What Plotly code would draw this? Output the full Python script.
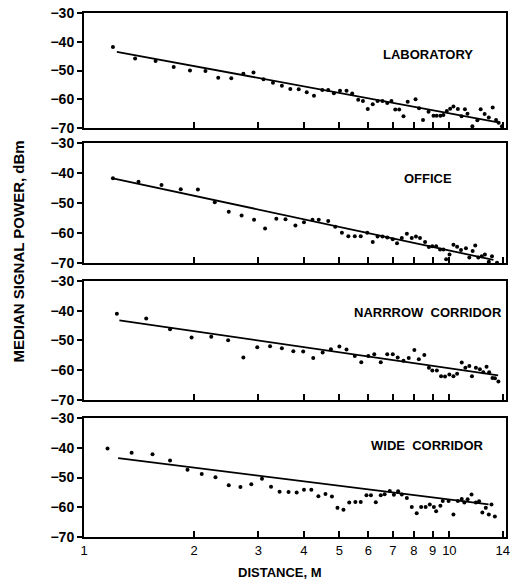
import plotly.graph_objects as go

# ---------------- data ----------------
panel_names = ["LABORATORY", "OFFICE", "NARRROW  CORRIDOR", "WIDE  CORRIDOR"]

lab_x = [1.20, 1.38, 1.57, 1.76, 1.95, 2.15, 2.33, 2.53, 2.73, 2.91, 3.10, 3.29, 3.48, 3.67, 3.87,
         4.07, 4.26, 4.49, 4.66, 4.83, 5.02, 5.23, 5.42, 5.63, 5.80, 5.98, 6.17, 6.36, 6.56, 6.76,
         6.94, 7.11, 7.29, 7.49, 7.69, 8.08, 8.26, 8.47, 8.77, 9.05, 9.23, 9.45, 9.63, 9.84, 10.05,
         10.26, 10.55, 10.80, 11.03, 11.21, 11.56, 11.93, 12.18, 12.49, 12.82, 13.14, 13.42, 13.64, 13.93]
lab_y = [-41.8, -45.8, -46.7, -48.8, -50.0, -50.2, -52.5, -52.7, -51.1, -50.7, -53.0, -54.3, -55.3, -56.4, -56.5,
         -57.6, -58.8, -56.8, -56.8, -57.9, -57.0, -57.0, -58.0, -60.2, -60.6, -63.4, -61.7, -60.6, -60.6, -61.3,
         -60.6, -63.6, -63.6, -65.9, -60.9, -60.0, -63.1, -67.2, -64.3, -65.7, -65.7, -65.7, -65.5, -64.1, -63.3,
         -62.5, -63.4, -65.9, -63.5, -65.0, -69.4, -67.3, -63.5, -65.1, -66.3, -62.9, -67.2, -68.2, -69.4]
lab_fit_x = [1.23, 13.6]
lab_fit_y = [-43.5, -68.0]

office_x = [1.20, 1.41, 1.63, 1.84, 2.05, 2.28, 2.49, 2.70, 2.92, 3.13, 3.36, 3.56, 3.79, 4.00, 4.22,
            4.39, 4.66, 4.87, 5.08, 5.29, 5.51, 5.72, 5.96, 6.17, 6.36, 6.56, 6.76, 7.00, 7.19, 7.41,
            7.65, 7.89, 8.10, 8.31, 8.58, 8.79, 8.98, 9.20, 9.43, 9.63, 9.80, 10.01, 10.26, 10.50, 10.76,
            11.10, 11.34, 11.58, 11.77, 12.00, 12.26, 12.51, 12.82, 13.08, 13.50]
office_y = [-41.8, -42.9, -44.0, -45.4, -45.5, -49.8, -52.9, -54.2, -55.6, -58.5, -55.3, -55.4, -57.5, -56.4, -55.6,
            -55.6, -56.0, -57.9, -59.9, -61.1, -61.1, -61.1, -59.9, -63.0, -61.2, -61.2, -61.5, -62.1, -63.4, -61.7,
            -60.3, -61.7, -61.2, -61.7, -63.0, -64.7, -64.4, -64.4, -65.5, -65.5, -68.8, -67.2, -63.9, -64.6, -65.7,
            -65.1, -68.2, -66.0, -64.2, -68.2, -67.8, -67.2, -69.6, -67.8, -69.9]
office_fit_x = [1.20, 13.2]
office_fit_y = [-41.8, -69.0]

narrow_x = [1.23, 1.48, 1.72, 1.97, 2.23, 2.48, 2.73, 2.98, 3.23, 3.48, 3.74, 3.98, 4.24, 4.50, 4.74,
            5.00, 5.23, 5.51, 5.74, 6.00, 6.23, 6.49, 6.76, 7.00, 7.22, 7.49, 7.74, 8.02, 8.25, 8.54,
            8.79, 8.98, 9.24, 9.49, 9.73, 10.00, 10.26, 10.50, 10.81, 11.06, 11.34, 11.53, 11.82, 12.12, 12.38,
            12.64, 12.85, 13.12, 13.33, 13.62]
narrow_y = [-41.0, -42.6, -46.2, -49.0, -48.7, -49.9, -55.7, -52.3, -51.9, -52.6, -53.6, -53.7, -55.9, -54.0, -52.9,
            -52.0, -53.0, -55.2, -57.3, -55.2, -54.6, -57.3, -54.6, -54.6, -55.7, -56.8, -55.9, -53.2, -56.3, -54.9,
            -59.2, -60.1, -60.1, -62.0, -62.1, -61.4, -62.0, -61.2, -57.4, -59.2, -58.6, -62.0, -59.2, -59.7, -60.7,
            -58.8, -60.7, -62.6, -62.7, -63.8]
narrow_fit_x = [1.25, 13.6]
narrow_fit_y = [-43.2, -61.7]

wide_x = [1.16, 1.35, 1.54, 1.72, 1.92, 2.10, 2.29, 2.49, 2.68, 2.87, 3.07, 3.25, 3.43, 3.63, 3.82,
          4.00, 4.19, 4.38, 4.58, 4.77, 4.94, 5.13, 5.32, 5.53, 5.72, 5.93, 6.10, 6.29, 6.49, 6.65,
          6.87, 7.05, 7.24, 7.41, 7.65, 7.89, 8.14, 8.37, 8.61, 8.84, 9.07, 9.20, 9.45, 9.59, 9.95,
          10.26, 10.55, 10.81, 10.99, 11.22, 11.50, 11.82, 12.06, 12.31, 12.58, 12.82, 13.04, 13.32]
wide_y = [-40.2, -41.7, -42.2, -44.3, -47.4, -48.8, -49.9, -52.6, -53.2, -52.3, -50.4, -53.1, -54.8, -54.9, -55.0,
          -54.1, -54.1, -56.3, -55.5, -56.4, -60.2, -60.8, -58.4, -58.2, -58.2, -56.0, -56.0, -58.3, -56.0, -55.6,
          -54.5, -55.8, -54.6, -55.7, -56.9, -59.9, -62.0, -59.9, -59.9, -59.1, -59.9, -61.3, -59.5, -57.9, -57.9,
          -62.4, -57.9, -57.2, -58.4, -57.3, -55.7, -58.4, -58.0, -61.8, -60.2, -62.4, -59.1, -63.1]
wide_fit_x = [1.24, 12.8]
wide_fit_y = [-43.5, -59.0]

y_tick_vals = [-70, -60, -50, -40, -30]
y_tick_text = ["\u221270", "\u221260", "\u221250", "\u221240", "\u221230"]
x_tick_vals = [1, 2, 3, 4, 5, 6, 7, 8, 9, 10, 14]
x_tick_text = ["1", "2", "3", "4", "5", "6", "7", "8", "9", "10", "14"]

series = [
    (lab_x, lab_y, lab_fit_x, lab_fit_y),
    (office_x, office_y, office_fit_x, office_fit_y),
    (narrow_x, narrow_y, narrow_fit_x, narrow_fit_y),
    (wide_x, wide_y, wide_fit_x, wide_fit_y),
]

# ---------------- layout ----------------
W, H = 513, 583
ML, MR, MT, MB = 84, 3, 13, 46
domains = [[0.7805, 1.0], [0.523, 0.752], [0.2615, 0.4885], [0.0, 0.227]]
label_y = [0.92, 0.685, 0.429, 0.174]

fig = go.Figure()
FONT = "Liberation Sans, Arial, sans-serif"

for i, (px, py, fx, fy) in enumerate(series):
    n = i + 1
    xa = "x" if n == 1 else f"x{n}"
    ya = "y" if n == 1 else f"y{n}"
    fig.add_trace(go.Scatter(x=px, y=py, mode="markers", xaxis=xa, yaxis=ya,
                             marker=dict(color="black", size=4), showlegend=False,
                             hoverinfo="skip"))
    fig.add_trace(go.Scatter(x=fx, y=fy, mode="lines", xaxis=xa, yaxis=ya,
                             line=dict(color="black", width=1.8), showlegend=False,
                             hoverinfo="skip"))
    xkey = "xaxis" if n == 1 else f"xaxis{n}"
    ykey = "yaxis" if n == 1 else f"yaxis{n}"
    fig.layout[xkey] = dict(
        type="log", range=[0, 1.155], domain=[0, 1], anchor=ya,
        showline=True, linecolor="black", linewidth=2, mirror=True,
        showgrid=False, zeroline=False,
        ticks="inside", ticklen=6, tickwidth=1.5, tickcolor="black",
        tickvals=x_tick_vals, ticktext=x_tick_text,
        showticklabels=(n == 4), ticklabeloverflow="allow",
        tickfont=dict(family=FONT, size=13, color="black"),
    )
    fig.layout[ykey] = dict(
        range=[-70, -30], domain=domains[i], anchor=xa,
        showline=True, linecolor="black", linewidth=2, mirror=True,
        showgrid=False, zeroline=False,
        ticks="outside", ticklen=5, tickwidth=2, tickcolor="black",
        tickvals=y_tick_vals, ticktext=y_tick_text,
        tickfont=dict(family=FONT, size=14, color="black", weight="bold"),
    )
    fig.add_annotation(text=panel_names[i], xref="paper", yref="paper",
                       x=0.814, y=label_y[i], xanchor="center", yanchor="middle",
                       showarrow=False,
                       font=dict(family=FONT, size=13, color="black", weight="bold"))

fig.add_annotation(text="MEDIAN SIGNAL POWER, dBm", xref="paper", yref="paper",
                   x=-0.156, y=0.545, xanchor="center", yanchor="middle",
                   textangle=-90, showarrow=False,
                   font=dict(family=FONT, size=15, color="black", weight="bold"))
fig.add_annotation(text="DISTANCE, M", xref="paper", yref="paper",
                   x=0.465, y=-0.0687, xanchor="center", yanchor="middle",
                   showarrow=False,
                   font=dict(family=FONT, size=13, color="black", weight="bold"))

fig.update_layout(
    width=W, height=H,
    margin=dict(l=ML, r=MR, t=MT, b=MB),
    paper_bgcolor="white", plot_bgcolor="white",
    showlegend=False,
)

fig.write_html("out.html")
